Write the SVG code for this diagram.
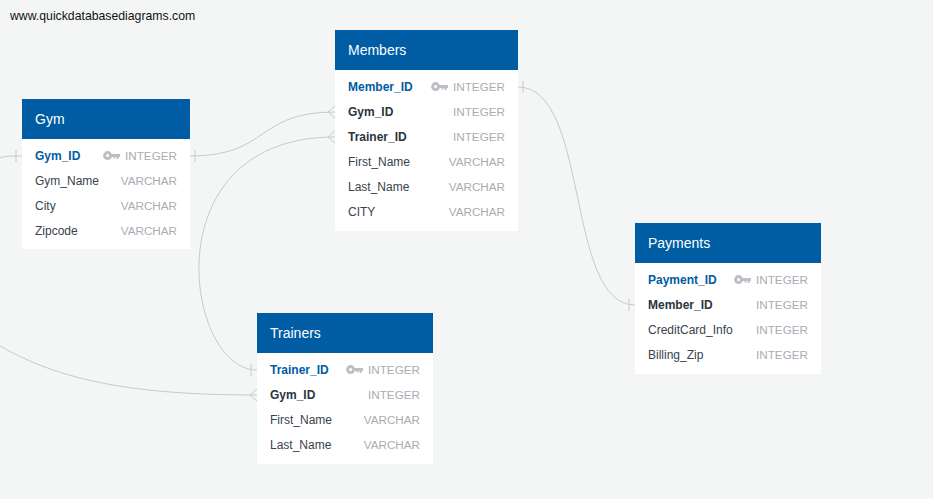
<svg xmlns="http://www.w3.org/2000/svg" width="933" height="499" viewBox="0 0 933 499">
<style>
text{font-family:"Liberation Sans",Arial,sans-serif}
.site{font-size:12.25px;fill:#111}
.h{fill:#005ca3}
.b{fill:#fff}
.t{font-size:14px;fill:#fff}
.n{font-size:12px;fill:#39424e}
.s{font-weight:bold;fill:#2b3440}
.p{font-weight:bold;fill:#005ca3}
.y{font-size:11.7px;fill:#a9adb3;text-anchor:end}
.c{fill:none;stroke:#c8caca;stroke-width:1}
</style>
<defs>
<g id="key"><circle cx="4.6" cy="4.6" r="3" fill="none" stroke="#bcc0c6" stroke-width="3"/><path d="M7 3H17V6H15.6V8H13.6V6H12.4V7.6H10.6V6H7Z" fill="#bcc0c6"/></g>
</defs>
<rect width="933" height="499" fill="#f4f6f6"/>
<text class="site" x="10" y="20">www.quickdatabasediagrams.com</text>
<g id="connectors" class="c">
<path d="M0 158C5 156 10 156 22 156"/><path d="M16 150V162"/>
<path d="M190 156C270 156 255 112 335 112"/><path d="M195 150V162"/>
<path d="M328 112L335 106M328 112L335 118"/>
<path d="M335 137C150 137 185 370 257 370"/><path d="M328 137L335 131M328 137L335 143"/>
<path d="M251 364V376"/>
<path d="M518 87C590 87 565 305 635 305"/><path d="M523 81V93"/><path d="M629 299V311"/>
<path d="M0 346C60 380 130 395 257 395"/><path d="M250 395L257 389M250 395L257 401"/>
</g>
<g id="gym">
<rect class="b" x="22" y="139" width="168" height="110"/><rect class="h" x="22" y="99" width="168" height="40"/>
<text class="t" x="35" y="124">Gym</text>
<text class="n p" x="35" y="160">Gym_ID</text><use href="#key" x="103" y="151"/><text class="y" x="177" y="160">INTEGER</text>
<text class="n" x="35" y="185">Gym_Name</text><text class="y" x="177" y="185">VARCHAR</text>
<text class="n" x="35" y="210">City</text><text class="y" x="177" y="210">VARCHAR</text>
<text class="n" x="35" y="235">Zipcode</text><text class="y" x="177" y="235">VARCHAR</text>
</g>
<g id="members">
<rect class="b" x="335" y="70" width="183" height="161"/><rect class="h" x="335" y="30" width="183" height="40"/>
<text class="t" x="348" y="55">Members</text>
<text class="n p" x="348" y="91">Member_ID</text><use href="#key" x="431" y="82"/><text class="y" x="505" y="91">INTEGER</text>
<text class="n s" x="348" y="116">Gym_ID</text><text class="y" x="505" y="116">INTEGER</text>
<text class="n s" x="348" y="141">Trainer_ID</text><text class="y" x="505" y="141">INTEGER</text>
<text class="n" x="348" y="166">First_Name</text><text class="y" x="505" y="166">VARCHAR</text>
<text class="n" x="348" y="191">Last_Name</text><text class="y" x="505" y="191">VARCHAR</text>
<text class="n" x="348" y="216">CITY</text><text class="y" x="505" y="216">VARCHAR</text>
</g>
<g id="trainers">
<rect class="b" x="257" y="353" width="176" height="111"/><rect class="h" x="257" y="313" width="176" height="40"/>
<text class="t" x="270" y="338">Trainers</text>
<text class="n p" x="270" y="374">Trainer_ID</text><use href="#key" x="346" y="365"/><text class="y" x="420" y="374">INTEGER</text>
<text class="n s" x="270" y="399">Gym_ID</text><text class="y" x="420" y="399">INTEGER</text>
<text class="n" x="270" y="424">First_Name</text><text class="y" x="420" y="424">VARCHAR</text>
<text class="n" x="270" y="449">Last_Name</text><text class="y" x="420" y="449">VARCHAR</text>
</g>
<g id="payments">
<rect class="b" x="635" y="263" width="186" height="111"/><rect class="h" x="635" y="223" width="186" height="40"/>
<text class="t" x="648" y="248">Payments</text>
<text class="n p" x="648" y="284">Payment_ID</text><use href="#key" x="734" y="275"/><text class="y" x="808" y="284">INTEGER</text>
<text class="n s" x="648" y="309">Member_ID</text><text class="y" x="808" y="309">INTEGER</text>
<text class="n" x="648" y="334">CreditCard_Info</text><text class="y" x="808" y="334">INTEGER</text>
<text class="n" x="648" y="359">Billing_Zip</text><text class="y" x="808" y="359">INTEGER</text>
</g>
</svg>
